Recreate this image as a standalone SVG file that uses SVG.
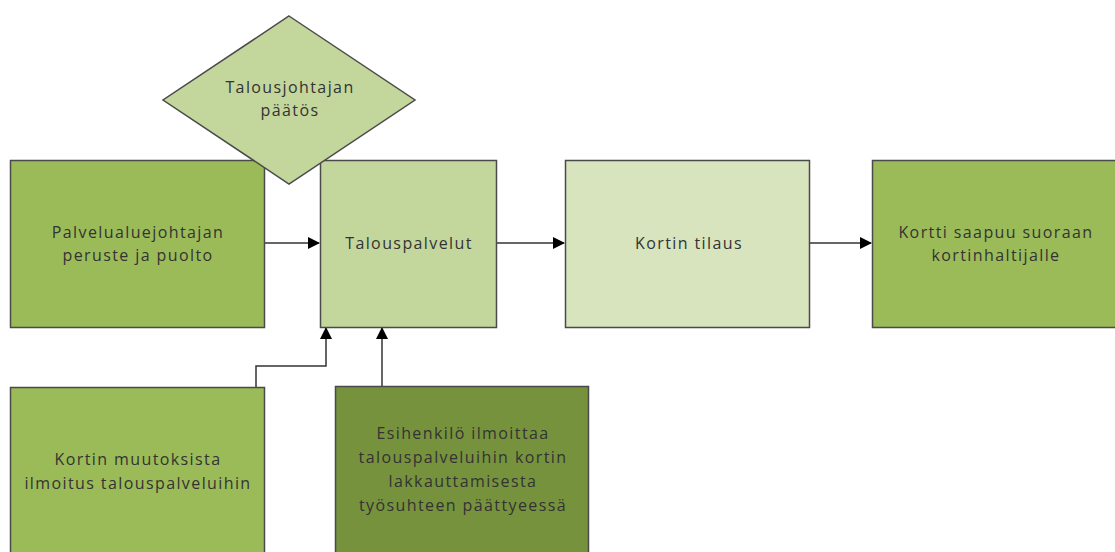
<svg xmlns="http://www.w3.org/2000/svg" width="1115" height="552" viewBox="0 0 1115 552">
<style>
.n{stroke:#4a4a4a;stroke-width:1.5}
.t{font-family:"Open Sans","DejaVu Sans",sans-serif;font-size:16px;letter-spacing:1.4px;fill:#333;text-anchor:middle}
.c{fill:none;stroke:#333;stroke-width:1.5}
</style>
<defs>
<marker id="ah" markerWidth="12" markerHeight="12" refX="11" refY="6" orient="auto" markerUnits="userSpaceOnUse">
<path d="M0,0 L12,6 L0,12 z" fill="#000"/>
</marker>
</defs>
<rect width="1115" height="552" fill="#fff"/>
<g id="connectors">
<line class="c" x1="265" y1="243" x2="319" y2="243" marker-end="url(#ah)"/>
<line class="c" x1="497" y1="243" x2="564" y2="243" marker-end="url(#ah)"/>
<line class="c" x1="810" y1="243" x2="871" y2="243" marker-end="url(#ah)"/>
<polyline class="c" points="256,387 256,366 326,366 326,328" marker-end="url(#ah)"/>
<line class="c" x1="382" y1="386" x2="382" y2="328" marker-end="url(#ah)"/>
</g>
<g id="n1"><rect class="n" x="10.5" y="160.5" width="254" height="167" fill="#9bbb59"/>
<text class="t" x="138" y="238">Palvelualuejohtajan</text><text class="t" x="138" y="261">peruste ja puolto</text></g>
<g id="n2"><rect class="n" x="320.5" y="160.5" width="176" height="167" fill="#c3d69b"/>
<text class="t" x="409" y="249">Talouspalvelut</text></g>
<g id="n0"><polygon class="n" points="289,16 415,100 289,184 163,100" fill="#c3d69b"/>
<text class="t" x="290" y="93">Talousjohtajan</text><text class="t" x="290" y="116">päätös</text></g>
<g id="n3"><rect class="n" x="565.5" y="160.5" width="244" height="167" fill="#d7e4bd"/>
<text class="t" x="689" y="249">Kortin tilaus</text></g>
<g id="n4"><rect class="n" x="872.5" y="160.5" width="245" height="167" fill="#9bbb59"/>
<text class="t" x="996" y="238">Kortti saapuu suoraan</text><text class="t" x="996" y="261">kortinhaltijalle</text></g>
<g id="n5"><rect class="n" x="10.5" y="387.5" width="254" height="170" fill="#9bbb59"/>
<text class="t" x="138" y="465">Kortin muutoksista</text><text class="t" x="138" y="489">ilmoitus talouspalveluihin</text></g>
<g id="n6"><rect class="n" x="335.5" y="386.5" width="253" height="170" fill="#76923c"/>
<text class="t" x="463" y="439">Esihenkilö ilmoittaa</text><text class="t" x="463" y="463">talouspalveluihin kortin</text><text class="t" x="463" y="487">lakkauttamisesta</text><text class="t" x="463" y="511">työsuhteen päättyeessä</text></g>
</svg>
